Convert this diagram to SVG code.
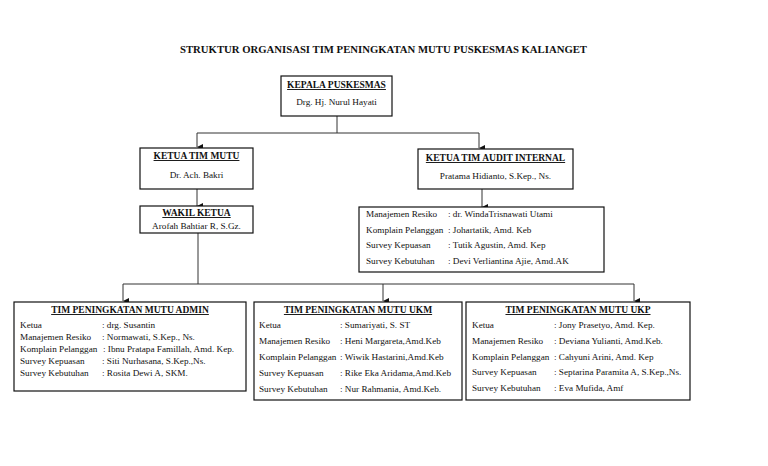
<svg xmlns="http://www.w3.org/2000/svg" width="768" height="466" viewBox="0 0 768 466">
<style>
text{font-family:"Liberation Serif","Times New Roman",serif;fill:#111}
.t{font-size:11px;font-weight:bold}
.h{font-size:9.5px;font-weight:bold;text-decoration:underline;text-anchor:middle}
.n{font-size:9.2px;text-anchor:middle}
.r{font-size:9.2px}
.box{fill:#fff;stroke:#111;stroke-width:1.2}
.c{fill:none;stroke:#333;stroke-width:1}
</style>
<defs>
<marker id="a" viewBox="0 0 6 6" refX="3" refY="6" markerWidth="6" markerHeight="6" orient="auto-start-reverse" markerUnits="userSpaceOnUse">
<path d="M0,0 L6,0 L3,6 Z" fill="#111"/>
</marker>
</defs>
<rect width="768" height="466" fill="#fff"/>
<text class="t" x="180" y="53" textLength="407" lengthAdjust="spacingAndGlyphs">STRUKTUR ORGANISASI TIM PENINGKATAN MUTU PUSKESMAS KALIANGET</text>

<g id="connectors">
<path class="c" d="M337,116 V133 H197 V147" marker-end="url(#a)"/>
<path class="c" d="M337,133 H479 V148" marker-end="url(#a)"/>
<path class="c" d="M197,189 V206" marker-end="url(#a)"/>
<path class="c" d="M482,189 V207" marker-end="url(#a)"/>
<path class="c" d="M198,233 V284 H123 V301" marker-end="url(#a)"/>
<path class="c" d="M198,284 H634 V301" marker-end="url(#a)"/>
<path class="c" d="M383,284 V301" marker-end="url(#a)"/>
</g>

<g id="kepala">
<rect class="box" x="281" y="76" width="111" height="40"/>
<text class="h" x="336.5" y="88">KEPALA PUSKESMAS</text>
<text class="n" x="336.5" y="105">Drg. Hj. Nurul Hayati</text>
</g>

<g id="ketua-tim-mutu">
<rect class="box" x="140" y="148" width="113" height="41"/>
<text class="h" x="196.5" y="159">KETUA TIM MUTU</text>
<text class="n" x="196.5" y="178">Dr. Ach. Bakri</text>
</g>

<g id="wakil-ketua">
<rect class="box" x="140" y="206" width="113" height="27"/>
<text class="h" x="196.5" y="216">WAKIL KETUA</text>
<text class="n" x="196.5" y="229">Arofah Bahtiar R, S.Gz.</text>
</g>

<g id="ketua-audit">
<rect class="box" x="418" y="149" width="155" height="40"/>
<text class="h" x="495.5" y="161">KETUA TIM AUDIT INTERNAL</text>
<text class="n" x="495.5" y="179">Pratama Hidianto, S.Kep., Ns.</text>
</g>

<g id="audit-anggota">
<rect class="box" x="359" y="207" width="245" height="65"/>
<text class="r" x="366" y="217">Manajemen Resiko</text><text class="r" x="448" y="217">: dr. WindaTrisnawati Utami</text>
<text class="r" x="366" y="233">Komplain Pelanggan</text><text class="r" x="448" y="233">: Johartatik, Amd. Keb</text>
<text class="r" x="366" y="248">Survey Kepuasan</text><text class="r" x="448" y="248">: Tutik Agustin, Amd. Kep</text>
<text class="r" x="366" y="264">Survey Kebutuhan</text><text class="r" x="448" y="264">: Devi Verliantina Ajie, Amd.AK</text>
</g>

<g id="tim-admin">
<rect class="box" x="14" y="302" width="232" height="89"/>
<text class="h" x="130" y="313">TIM PENINGKATAN MUTU ADMIN</text>
<text class="r" x="20" y="328">Ketua</text><text class="r" x="102" y="328">: drg. Susantin</text>
<text class="r" x="20" y="340">Manajemen Resiko</text><text class="r" x="102" y="340">: Normawati, S.Kep., Ns.</text>
<text class="r" x="20" y="352">Komplain Pelanggan</text><text class="r" x="103" y="352">: Ibnu Pratapa Famillah, Amd. Kep.</text>
<text class="r" x="20" y="364">Survey Kepuasan</text><text class="r" x="102" y="364">: Siti Nurhasana, S.Kep.,Ns.</text>
<text class="r" x="20" y="376">Survey Kebutuhan</text><text class="r" x="102" y="376">: Rosita Dewi A, SKM.</text>
</g>

<g id="tim-ukm">
<rect class="box" x="254" y="302" width="208" height="98"/>
<text class="h" x="358" y="313">TIM PENINGKATAN MUTU UKM</text>
<text class="r" x="259" y="328">Ketua</text><text class="r" x="340" y="328">: Sumariyati, S. ST</text>
<text class="r" x="259" y="344">Manajemen Resiko</text><text class="r" x="340" y="344">: Heni Margareta,Amd.Keb</text>
<text class="r" x="259" y="360">Komplain Pelanggan</text><text class="r" x="340" y="360">: Wiwik Hastarini,Amd.Keb</text>
<text class="r" x="259" y="376">Survey Kepuasan</text><text class="r" x="340" y="376">: Rike Eka Aridama,Amd.Keb</text>
<text class="r" x="259" y="392">Survey Kebutuhan</text><text class="r" x="340" y="392">: Nur Rahmania, Amd.Keb.</text>
</g>

<g id="tim-ukp">
<rect class="box" x="466" y="302" width="224" height="98"/>
<text class="h" x="578" y="313">TIM PENINGKATAN MUTU UKP</text>
<text class="r" x="472" y="328">Ketua</text><text class="r" x="554" y="328">: Jony Prasetyo, Amd. Kep.</text>
<text class="r" x="472" y="344">Manajemen Resiko</text><text class="r" x="554" y="344">: Deviana Yulianti, Amd.Keb.</text>
<text class="r" x="472" y="360">Komplain Pelanggan</text><text class="r" x="554" y="360">: Cahyuni Arini, Amd. Kep</text>
<text class="r" x="472" y="375">Survey Kepuasan</text><text class="r" x="554" y="375">: Septarina Paramita A, S.Kep.,Ns.</text>
<text class="r" x="472" y="391">Survey Kebutuhan</text><text class="r" x="554" y="391">: Eva Mufida, Amf</text>
</g>
</svg>
